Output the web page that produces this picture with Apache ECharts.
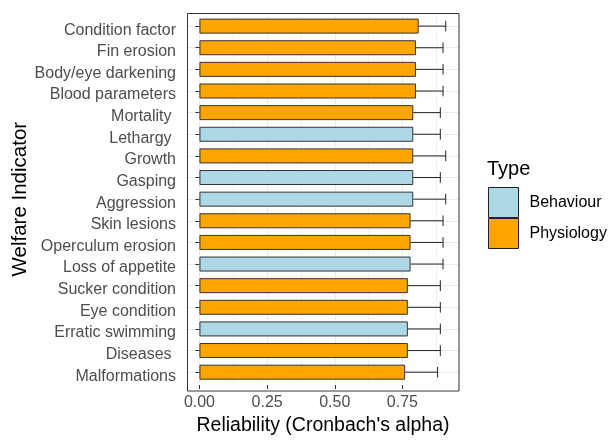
<!DOCTYPE html>
<html>
<head>
<meta charset="utf-8">
<script src="https://cdn.jsdelivr.net/npm/echarts@6/dist/echarts.min.js"></script>
<style>
  html, body { margin: 0; padding: 0; background: #fff; }
  #chart { width: 609px; height: 441px; }
</style>
</head>
<body>
<div id="chart"></div>
<script>
// welfare indicators, top to bottom
const indicators = [
    'Condition factor', 'Fin erosion', 'Body/eye darkening', 'Blood parameters',
    'Mortality ', 'Lethargy ', 'Growth', 'Gasping', 'Aggression', 'Skin lesions',
    'Operculum erosion', 'Loss of appetite', 'Sucker condition', 'Eye condition',
    'Erratic swimming', 'Diseases ', 'Malformations'
];
const types = [
    'Physiology', 'Physiology', 'Physiology', 'Physiology',
    'Physiology', 'Behaviour', 'Physiology', 'Behaviour', 'Behaviour', 'Physiology',
    'Physiology', 'Behaviour', 'Physiology', 'Physiology',
    'Behaviour', 'Physiology', 'Physiology'
];
const reliability = [
    0.81, 0.80, 0.80, 0.80,
    0.79, 0.79, 0.79, 0.79, 0.79, 0.78,
    0.78, 0.78, 0.77, 0.77,
    0.77, 0.77, 0.76
];
const upper = [
    0.91, 0.90, 0.90, 0.90,
    0.89, 0.89, 0.91, 0.89, 0.91, 0.90,
    0.90, 0.90, 0.89, 0.89,
    0.89, 0.89, 0.88
];
const xTicks = [0, 0.25, 0.5, 0.75];
const xMinor = [0.125, 0.375, 0.625, 0.875];

const FONT = "'Liberation Sans', Arial, sans-serif";
const colors = { Behaviour: '#ADD8E6', Physiology: '#FFA500' };

function barSeries(name) {
    return {
        name: name,
        type: 'bar',
        barWidth: 15,
        barGap: '-100%',
        itemStyle: { color: colors[name], borderColor: '#333', borderWidth: 1 },
        data: reliability.map((v, i) => types[i] === name ? v : '-')
    };
}

const errData = reliability.map((v, i) => [v, i, upper[i]]);

const myChart = echarts.init(document.getElementById('chart'));

const option = {
    backgroundColor: '#fff',
    animation: false,
    textStyle: { fontFamily: FONT },
    title: {
        text: 'Type',
        left: 487,
        top: 159,
        padding: 0,
        textStyle: { fontFamily: FONT, fontSize: 20, fontWeight: 'normal', color: '#000' }
    },
    legend: {
        orient: 'vertical',
        left: 488,
        top: 187,
        padding: 0,
        itemGap: 0,
        itemWidth: 30,
        itemHeight: 30,
        icon: 'rect',
        itemStyle: { borderColor: '#222', borderWidth: 1 },
        textStyle: { fontFamily: FONT, fontSize: 16, color: '#000', padding: [3, 0, 0, 6] },
        data: ['Behaviour', 'Physiology']
    },
    grid: {
        left: 187,
        right: 150,
        top: 15.3,
        bottom: 52,
        containLabel: false
    },
    xAxis: [{
        type: 'value',
        min: -0.046,
        max: 0.959,
        offset: 2,
        name: "Reliability (Cronbach's alpha)",
        nameLocation: 'middle',
        nameGap: 31,
        nameTextStyle: { fontFamily: FONT, fontSize: 19.5, color: '#000' },
        axisLine: { show: false },
        axisTick: { show: true, length: 4, customValues: xTicks, lineStyle: { color: '#333' } },
        axisLabel: {
            customValues: xTicks,
            margin: 10,
            fontSize: 16,
            color: '#4d4d4d',
            fontFamily: FONT,
            formatter: v => v.toFixed(2)
        },
        splitLine: { show: true, lineStyle: { color: '#ebebeb', width: 1 } }
    }, {
        // minor grid only
        type: 'value',
        min: -0.046,
        max: 0.959,
        position: 'bottom',
        axisLine: { show: false },
        axisTick: { show: false, customValues: xMinor },
        axisLabel: { show: false, customValues: xMinor },
        splitLine: { show: true, lineStyle: { color: '#f2f2f2', width: 1 } }
    }],
    yAxis: {
        type: 'category',
        inverse: true,
        data: indicators,
        name: 'Welfare Indicator',
        nameLocation: 'middle',
        nameGap: 155,
        nameTextStyle: { fontFamily: FONT, fontSize: 20.5, color: '#000' },
        axisLine: { show: false },
        axisTick: { show: true, alignWithLabel: true, length: 4, lineStyle: { color: '#333' } },
        axisLabel: {
            margin: 11,
            fontSize: 16,
            color: '#4d4d4d',
            fontFamily: FONT,
            verticalAlign: 'top',
            lineHeight: 16,
            padding: [-4, 0, 0, 0]
        },
        splitLine: { show: true, alignWithLabel: true, lineStyle: { color: '#ebebeb', width: 1 } }
    },
    graphic: [{
        type: 'rect',
        silent: true,
        z: 10,
        shape: { x: 187.5, y: 13.5, width: 271.5, height: 377.5 },
        style: { fill: 'none', stroke: '#333', lineWidth: 1 }
    }],
    series: [
        barSeries('Behaviour'),
        barSeries('Physiology'),
        {
            name: 'error',
            type: 'custom',
            z: 3,
            encode: { x: [0, 2], y: 1 },
            renderItem: function (params, api) {
                const cat = api.value(1);
                const a = api.coord([api.value(0), cat]);
                const b = api.coord([api.value(2), cat]);
                const style = { stroke: '#222', lineWidth: 1 };
                return {
                    type: 'group',
                    children: [
                        { type: 'line', shape: { x1: a[0], y1: a[1], x2: b[0], y2: b[1] }, style: style },
                        { type: 'line', shape: { x1: b[0], y1: b[1] - 5.3, x2: b[0], y2: b[1] + 5.3 }, style: style }
                    ]
                };
            },
            data: errData
        }
    ]
};

myChart.setOption(option);
</script>
</body>
</html>
